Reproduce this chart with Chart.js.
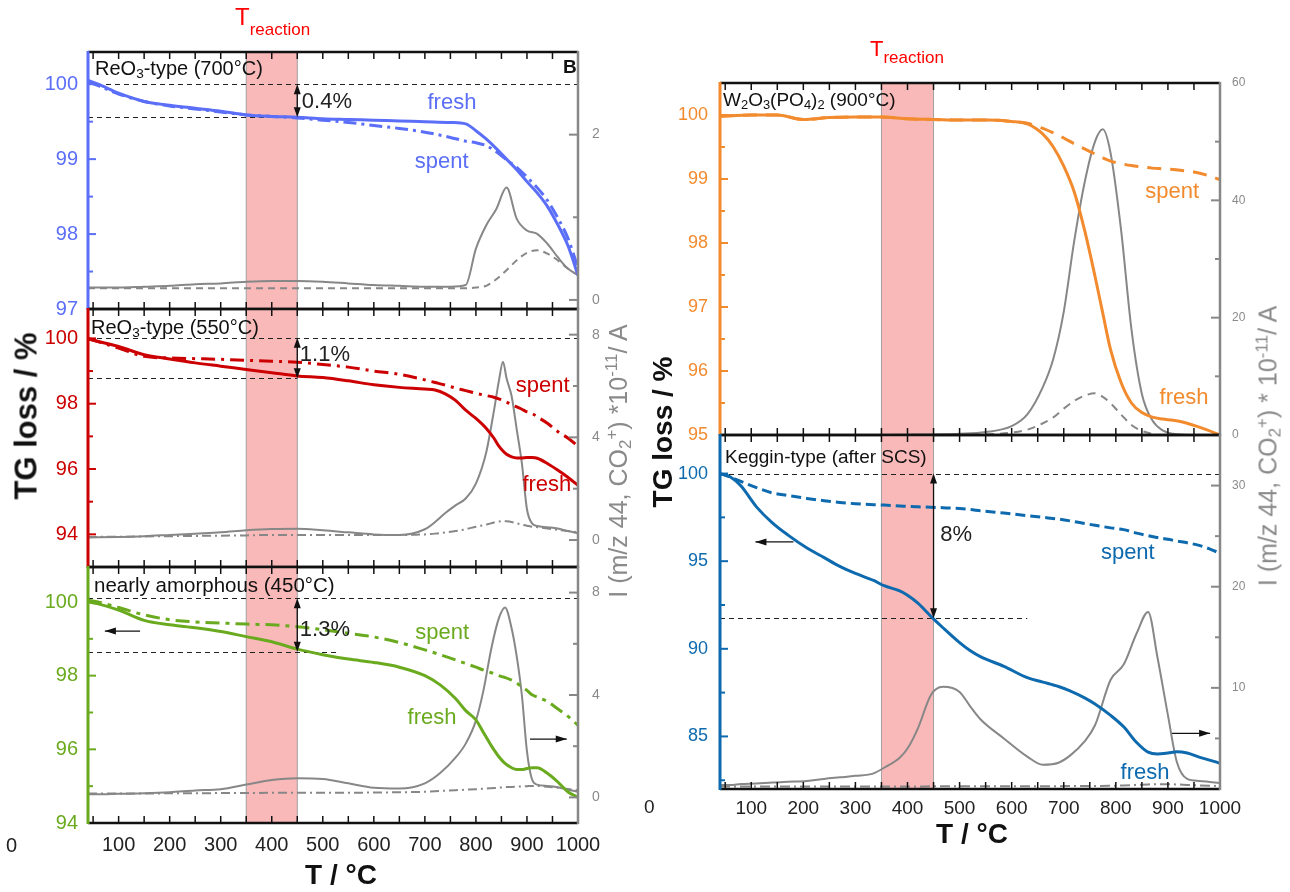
<!DOCTYPE html>
<html lang="en">
<head>
<meta charset="UTF-8" />
<title>TG / MS of fresh and spent catalysts</title>
<script src="https://cdn.jsdelivr.net/npm/chart.js"></script>
<style>
  body { margin: 0; background: #fff; font-family: Arial, "Liberation Sans", sans-serif; }
  #fig { position: relative; width: 1290px; height: 892px; overflow: hidden; }
  #fig canvas { position: absolute; left: 0; top: 0; }
  .txt { position: absolute; white-space: nowrap; line-height: 1; color: #111; }
  .rot { transform: translate(-50%, -50%) rotate(-90deg); }
  .lab { font-size: 20px; }
  .lab sub, .ttl sub { font-size: 0.68em; vertical-align: -0.25em; line-height: 0; }
  .ttl sup { font-size: 0.68em; vertical-align: 0.55em; line-height: 0; }
  .red { color: #ff0000; }
</style>
</head>
<body>
<div id="fig">
  <div id="charts"></div>

  <!-- T reaction markers -->
  <div class="txt red" style="left:235px;top:5px"><span style="font-size:24px">T</span><span style="font-size:17px;position:relative;top:10px">reaction</span></div>
  <div class="txt red" style="left:870px;top:38px"><span style="font-size:22px">T</span><span style="font-size:17px;position:relative;top:7px">reaction</span></div>

  <!-- panel labels -->
  <div class="txt lab" style="left:95px;top:58px">ReO<sub>3</sub>-type (700°C)</div>
  <div class="txt lab" style="left:563px;top:57px;font-weight:bold;font-size:19px">B</div>
  <div class="txt lab" style="left:91px;top:317px">ReO<sub>3</sub>-type (550°C)</div>
  <div class="txt lab" style="left:94px;top:575px;font-size:20.5px">nearly amorphous (450°C)</div>
  <div class="txt lab" style="left:723px;top:90px;font-size:19px">W<sub>2</sub>O<sub>3</sub>(PO<sub>4</sub>)<sub>2</sub> (900°C)</div>
  <div class="txt lab" style="left:725px;top:447px;font-size:19px">Keggin-type (after SCS)</div>

  <!-- axis titles -->
  <div class="txt rot ttl" style="left:26px;top:416px;font-size:31px;font-weight:bold">TG loss / %</div>
  <div class="txt rot ttl" style="left:618px;top:461px;font-size:25px;color:#8a8a8a">I (m/z 44, CO<sub>2</sub><sup>+</sup>) *10<sup>-11</sup>/ A</div>
  <div class="txt rot ttl" style="left:663px;top:432px;font-size:28px;font-weight:bold">TG loss / %</div>
  <div class="txt rot ttl" style="left:1268px;top:446px;font-size:25px;color:#8a8a8a">I (m/z 44, CO<sub>2</sub><sup>+</sup>) * 10<sup>-11</sup>/ A</div>
  <div class="txt ttl" style="left:341px;top:875px;transform:translate(-50%,-50%);font-size:28px;font-weight:bold">T / °C</div>
  <div class="txt ttl" style="left:972px;top:834px;transform:translate(-50%,-50%);font-size:28px;font-weight:bold">T / °C</div>

  <!-- clipped labels at the figure edges -->
  <div class="txt" style="left:6px;top:835px;font-size:20px;color:#222">0</div>
  <div class="txt" style="left:644px;top:797px;font-size:19px;color:#222">0</div>
</div>

<script>
  // ---- shared x axis ----
  const xMin = 40, xMax = 1000;
  const xMajor = [100, 200, 300, 400, 500, 600, 700, 800, 900, 1000];
  const xMinor = [50, 150, 250, 350, 450, 550, 650, 750, 850, 950];
  const reactionBand = [350, 450];

  // ---- panel 1: ReO3-type (700 °C) ----
  const t1 = [40, 60, 100, 150, 200, 250, 300, 350, 400, 450, 500, 550, 600, 650, 700, 750, 780, 800, 820, 840, 860, 880, 900, 920, 940, 960, 980, 1000];
  const tg1Fresh = [100.05, 100.0, 99.88, 99.77, 99.72, 99.68, 99.64, 99.59, 99.57, 99.56, 99.54, 99.53, 99.52, 99.51, 99.5, 99.49, 99.47, 99.38, 99.27, 99.14, 99.0, 98.86, 98.7, 98.55, 98.37, 98.13, 97.85, 97.45];
  const tg1Spent = [100.03, 99.98, 99.87, 99.77, 99.71, 99.67, 99.63, 99.59, 99.57, 99.55, 99.52, 99.49, 99.45, 99.41, 99.36, 99.29, 99.24, 99.22, 99.18, 99.1, 98.99, 98.89, 98.76, 98.62, 98.45, 98.22, 97.95, 97.55];
  const ms1Fresh = [0.15, 0.15, 0.15, 0.16, 0.17, 0.19, 0.2, 0.22, 0.23, 0.23, 0.22, 0.2, 0.18, 0.17, 0.16, 0.16, 0.18, 0.62, 0.9, 1.1, 1.36, 0.98, 0.84, 0.8, 0.68, 0.52, 0.38, 0.3];
  const ms1Spent = [0.14, 0.14, 0.14, 0.14, 0.14, 0.14, 0.14, 0.14, 0.14, 0.14, 0.14, 0.14, 0.14, 0.14, 0.14, 0.14, 0.14, 0.15, 0.17, 0.25, 0.36, 0.48, 0.57, 0.6, 0.56, 0.48, 0.38, 0.3];
  const p1Left = [97, 98, 99, 100], p1LeftMinor = [97.5, 98.5, 99.5];
  const p1Right = [0, 2], p1RightMinor = [1, 3];

  // ---- panel 2: ReO3-type (550 °C) ----
  const t2 = [40, 100, 150, 200, 250, 300, 350, 400, 450, 500, 550, 600, 650, 700, 720, 740, 760, 780, 800, 820, 835, 845, 853, 860, 870, 880, 890, 900, 910, 920, 940, 960, 980, 1000];
  const tg2Fresh = [99.98, 99.75, 99.5, 99.37, 99.25, 99.15, 99.05, 98.95, 98.85, 98.8, 98.7, 98.58, 98.5, 98.45, 98.42, 98.3, 98.1, 97.8, 97.55, 97.25, 96.95, 96.7, 96.55, 96.45, 96.37, 96.34, 96.34, 96.35, 96.35, 96.33, 96.17, 95.97, 95.75, 95.5];
  const tg2Spent = [100.0, 99.7, 99.45, 99.4, 99.38, 99.36, 99.33, 99.3, 99.27, 99.2, 99.12, 99.0, 98.9, 98.73, 98.65, 98.57, 98.48, 98.4, 98.32, 98.25, 98.2, 98.15, 98.1, 98.05, 97.97, 97.9, 97.83, 97.75, 97.7, 97.6, 97.4, 97.15, 96.95, 96.7];
  const ms2Fresh = [0.1, 0.12, 0.15, 0.2, 0.25, 0.3, 0.38, 0.43, 0.44, 0.38, 0.3, 0.22, 0.2, 0.42, 0.7, 1.05, 1.35, 1.62, 2.2, 3.4, 5.0, 6.2, 6.95, 6.3, 5.6, 4.3, 3.0, 1.2, 0.65, 0.55, 0.5, 0.45, 0.35, 0.27];
  const ms2Spent = [0.12, 0.13, 0.14, 0.15, 0.16, 0.17, 0.18, 0.2, 0.2, 0.2, 0.2, 0.2, 0.2, 0.22, 0.25, 0.3, 0.35, 0.42, 0.52, 0.6, 0.68, 0.72, 0.74, 0.73, 0.7, 0.65, 0.6, 0.56, 0.52, 0.5, 0.45, 0.4, 0.35, 0.3];
  const p2Left = [94, 96, 98, 100], p2LeftMinor = [95, 97, 99];
  const p2Right = [0, 4, 8], p2RightMinor = [2, 6];

  // ---- panel 3: nearly amorphous (450 °C) ----
  const t3 = [40, 60, 100, 150, 200, 250, 300, 350, 400, 450, 500, 550, 600, 650, 700, 730, 760, 780, 800, 815, 830, 845, 857, 870, 880, 890, 900, 910, 920, 940, 960, 980, 1000];
  const tg3Fresh = [100.0, 99.95, 99.78, 99.5, 99.38, 99.3, 99.2, 99.06, 98.92, 98.72, 98.57, 98.45, 98.36, 98.23, 98.0, 97.75, 97.38, 97.05, 96.8, 96.45, 96.1, 95.8, 95.62, 95.5, 95.45, 95.45, 95.48, 95.5, 95.5, 95.35, 95.12, 94.85, 94.7];
  const tg3Spent = [100.05, 100.0, 99.85, 99.65, 99.52, 99.46, 99.43, 99.4, 99.38, 99.33, 99.25, 99.15, 99.05, 98.9, 98.7, 98.57, 98.43, 98.33, 98.23, 98.15, 98.08, 98.0, 97.95, 97.88, 97.8, 97.7, 97.6, 97.48, 97.42, 97.3, 97.1, 96.9, 96.65];
  const ms3Fresh = [0.12, 0.12, 0.14, 0.16, 0.2, 0.27, 0.32, 0.5, 0.68, 0.75, 0.72, 0.55, 0.38, 0.35, 0.55, 0.95, 1.55, 2.1, 3.0, 4.2, 5.8, 7.0, 7.42, 6.6, 5.5, 4.0, 1.8, 0.7, 0.5, 0.45, 0.4, 0.3, 0.22];
  const ms3Spent = [0.15, 0.15, 0.15, 0.15, 0.16, 0.16, 0.17, 0.17, 0.18, 0.18, 0.18, 0.18, 0.19, 0.2, 0.22, 0.25, 0.28, 0.3, 0.32, 0.34, 0.36, 0.38, 0.4, 0.41, 0.42, 0.43, 0.44, 0.45, 0.45, 0.42, 0.38, 0.33, 0.28];
  const p3Left = [94, 96, 98, 100], p3LeftMinor = [95, 97, 99];
  const p3Right = [0, 4, 8], p3RightMinor = [2, 6];

  // ---- panel 4: W2O3(PO4)2 (900 °C) ----
  const t4 = [40, 100, 150, 200, 250, 300, 350, 400, 450, 500, 550, 600, 630, 660, 680, 700, 720, 740, 760, 775, 790, 810, 830, 850, 870, 890, 910, 930, 950, 975, 1000];
  const tg4Fresh = [99.98, 100.0, 100.0, 99.93, 99.96, 99.97, 99.97, 99.94, 99.93, 99.92, 99.92, 99.9, 99.86, 99.7, 99.5, 99.2, 98.8, 98.2, 97.48, 96.9, 96.33, 95.82, 95.5, 95.35, 95.28, 95.25, 95.23, 95.2, 95.15, 95.08, 95.0];
  const tg4Spent = [99.98, 100.0, 100.0, 99.93, 99.96, 99.97, 99.97, 99.94, 99.93, 99.92, 99.92, 99.9, 99.87, 99.79, 99.72, 99.64, 99.55, 99.47, 99.39, 99.33, 99.28, 99.24, 99.21, 99.19, 99.17, 99.16, 99.15, 99.13, 99.11, 99.06, 98.99];
  const ms4Fresh = [0, 0, 0, 0, 0, 0, 0, 0.05, 0.1, 0.2, 0.5, 1.5, 3.5, 8.2, 13, 21, 33, 43, 50, 52.1, 48, 35, 18, 7, 2.5, 0.8, 0.2, 0.05, 0, 0, 0];
  const ms4Spent = [0, 0, 0, 0, 0, 0, 0, 0, 0, 0, 0.1, 0.4, 0.9, 2, 3, 4.5, 5.8, 6.7, 7.1, 6.5, 5.4, 3.5, 1.7, 0.7, 0.2, 0, 0, 0, 0, 0, 0];
  const p4Left = [95, 96, 97, 98, 99, 100], p4LeftMinor = [95.5, 96.5, 97.5, 98.5, 99.5];
  const p4Right = [0, 20, 40, 60], p4RightMinor = [10, 30, 50];

  // ---- panel 5: Keggin-type (after SCS) ----
  const t5 = [40, 60, 80, 110, 140, 170, 207, 240, 270, 300, 335, 355, 385, 400, 420, 445, 468, 500, 520, 540, 585, 630, 660, 690, 712, 740, 760, 790, 815, 840, 862, 880, 900, 917, 937, 960, 980, 1000];
  const tg5Fresh = [100, 99.8, 99.3, 98.1, 97.2, 96.5, 95.75, 95.2, 94.7, 94.3, 93.9, 93.6, 93.3, 93.05, 92.6, 91.85, 91.2, 90.35, 89.9, 89.55, 89.0, 88.35, 88.1, 87.85, 87.6, 87.2, 86.85, 86.2, 85.55, 84.65, 84.1, 84.0, 84.05, 84.12, 84.05, 83.82, 83.65, 83.47];
  const tg5Spent = [100, 99.8, 99.55, 99.2, 98.9, 98.75, 98.58, 98.45, 98.35, 98.28, 98.22, 98.2, 98.15, 98.13, 98.1, 98.08, 98.05, 98.0, 97.95, 97.88, 97.75, 97.6, 97.5, 97.4, 97.3, 97.15, 97.05, 96.9, 96.8, 96.6, 96.45, 96.35, 96.25, 96.15, 96.05, 95.9, 95.7, 95.45];
  const ms5Fresh = [0.4, 0.4, 0.5, 0.55, 0.65, 0.72, 0.8, 1.0, 1.15, 1.3, 1.55, 2.1, 3.1, 4.0, 6.0, 9.3, 10.1, 9.6, 8.2, 6.9, 5.0, 3.2, 2.4, 2.6, 3.3, 4.7, 6.3, 10.8, 12.3, 15.4, 17.5, 13.0, 7.3, 2.7, 1.0, 0.8, 0.7, 0.6];
  const ms5Spent = [0.25, 0.25, 0.25, 0.25, 0.25, 0.25, 0.25, 0.25, 0.25, 0.25, 0.25, 0.25, 0.25, 0.25, 0.25, 0.26, 0.26, 0.27, 0.27, 0.27, 0.28, 0.28, 0.28, 0.28, 0.29, 0.3, 0.3, 0.32, 0.35, 0.4, 0.45, 0.48, 0.48, 0.45, 0.4, 0.35, 0.32, 0.3];
  const p5Left = [85, 90, 95, 100], p5LeftMinor = [82.5, 87.5, 92.5, 97.5];
  const p5Right = [10, 20, 30], p5RightMinor = [5, 15, 25, 35];

  const W = 1290, H = 892;
  const FONT = 'Arial, "Liberation Sans", sans-serif';
  const GRAY = '#878787';

  const pts = (t, v) => t.map((x, i) => ({ x, y: v[i] }));

  function arrowHead(ctx, x0, y0, x1, y1, len, half) {
    const a = Math.atan2(y1 - y0, x1 - x0), c = Math.cos(a), s = Math.sin(a);
    ctx.beginPath();
    ctx.moveTo(x1, y1);
    ctx.lineTo(x1 - len * c + half * s, y1 - len * s - half * c);
    ctx.lineTo(x1 - len * c - half * s, y1 - len * s + half * c);
    ctx.closePath();
    ctx.fill();
  }

  function seg(ctx, x0, y0, x1, y1) {
    ctx.beginPath(); ctx.moveTo(x0, y0); ctx.lineTo(x1, y1); ctx.stroke();
  }

  // band, reference lines, frame, ticks, arrows and labels for one panel
  const panelPlugin = {
    id: 'panel',
    beforeDatasetsDraw(chart, args, o) {
      const { ctx, chartArea: a, scales: { x, y } } = chart;
      ctx.save();
      const b0 = x.getPixelForValue(reactionBand[0]), b1 = x.getPixelForValue(reactionBand[1]);
      ctx.fillStyle = '#f9b9b9';
      ctx.fillRect(b0, a.top, b1 - b0, a.bottom - a.top);
      ctx.strokeStyle = '#a0a0a0'; ctx.lineWidth = 1;
      seg(ctx, b0, a.top, b0, a.bottom);
      seg(ctx, b1, a.top, b1, a.bottom);
      ctx.strokeStyle = '#222'; ctx.lineWidth = 1; ctx.setLineDash([5, 4]);
      (o.refs || []).forEach(r => {
        const py = Math.round(y.getPixelForValue(r.v)) + 0.5;
        seg(ctx, x.getPixelForValue(r.from), py, x.getPixelForValue(r.to), py);
      });
      ctx.restore();
    },
    afterDatasetsDraw(chart, args, o) {
      const { ctx, chartArea: a, scales } = chart;
      const x = scales.x, y = scales.y, y2 = scales.y2;
      const inside = (s, v) => v > s.min && v < s.max;
      ctx.save();
      ctx.setLineDash([]);

      // x ticks, top and bottom, inward
      ctx.strokeStyle = '#111'; ctx.lineWidth = 1.5;
      xMajor.concat(xMinor).filter(v => inside(x, v)).forEach(v => {
        const px = x.getPixelForValue(v);
        seg(ctx, px, a.bottom, px, a.bottom - 7);
        seg(ctx, px, a.top, px, a.top + 7);
      });
      // left ticks
      ctx.strokeStyle = o.color; ctx.lineWidth = 2;
      o.leftMajor.filter(v => inside(y, v)).forEach(v => { const py = y.getPixelForValue(v); seg(ctx, a.left, py, a.left + 8, py); });
      o.leftMinor.filter(v => inside(y, v)).forEach(v => { const py = y.getPixelForValue(v); seg(ctx, a.left, py, a.left + 5, py); });
      // right ticks
      ctx.strokeStyle = GRAY;
      o.rightMajor.filter(v => inside(y2, v)).forEach(v => { const py = y2.getPixelForValue(v); seg(ctx, a.right, py, a.right - 9, py); });
      o.rightMinor.filter(v => inside(y2, v)).forEach(v => { const py = y2.getPixelForValue(v); seg(ctx, a.right, py, a.right - 5, py); });

      // frame
      ctx.strokeStyle = '#111'; ctx.lineWidth = 2.5;
      seg(ctx, a.left, a.top, a.right, a.top);
      seg(ctx, a.left, a.bottom, a.right, a.bottom);
      ctx.strokeStyle = GRAY; ctx.lineWidth = 2.5;
      seg(ctx, a.right, a.top - 1, a.right, a.bottom + 1);
      ctx.strokeStyle = o.color; ctx.lineWidth = 3;
      seg(ctx, a.left, a.top - 1, a.left, a.bottom + 1);

      // double arrow for the mass loss
      ctx.strokeStyle = '#111'; ctx.fillStyle = '#111'; ctx.lineWidth = 1.3;
      if (o.span) {
        const px = x.getPixelForValue(o.span.x);
        const ya = y.getPixelForValue(o.span.from), yb = y.getPixelForValue(o.span.to);
        seg(ctx, px, ya + 6, px, yb - 6);
        arrowHead(ctx, px, yb, px, ya, 10, 3.5);
        arrowHead(ctx, px, ya, px, yb, 10, 3.5);
      }
      // axis pointer arrows
      ctx.lineWidth = 1.2;
      (o.pointers || []).forEach(p => {
        const s = scales[p.axis], py = s.getPixelForValue(p.v);
        const xa = x.getPixelForValue(p.from), xb = x.getPixelForValue(p.to);
        seg(ctx, xa, py, xb, py);
        arrowHead(ctx, xa, py, xb, py, 11, 3.5);
      });

      // labels
      ctx.textBaseline = 'middle';
      (o.labels || []).forEach(l => {
        ctx.font = (l.size || 22) + 'px ' + FONT;
        ctx.fillStyle = l.color;
        ctx.textAlign = l.align || 'center';
        ctx.fillText(l.text, x.getPixelForValue(l.x), scales[l.axis || 'y'].getPixelForValue(l.v));
      });
      ctx.restore();
    }
  };

  function tgSet(t, v, color, dash) {
    return { data: pts(t, v), yAxisID: 'y', borderColor: color, borderWidth: 3, borderDash: dash || [],
      pointRadius: 0, fill: false, cubicInterpolationMode: 'monotone' };
  }
  function msSet(t, v, dash) {
    return { data: pts(t, v), yAxisID: 'y2', borderColor: GRAY, borderWidth: 2, borderDash: dash || [],
      pointRadius: 0, fill: false, cubicInterpolationMode: 'monotone' };
  }

  function yScale(pos, min, max, ticks, color, size, pad) {
    return {
      type: 'linear', position: pos, min, max,
      grid: { display: false, drawTicks: false }, border: { display: false },
      afterBuildTicks: s => { s.ticks = ticks.map(v => ({ value: v })); },
      ticks: { color, font: { family: FONT, size }, padding: pad, autoSkip: false, callback: v => String(v) },
      afterFit: s => { s.width = 60; s.paddingTop = 0; s.paddingBottom = 0; }
    };
  }

  function makePanel(box, c) {
    const cv = document.createElement('canvas');
    cv.width = W; cv.height = H;
    document.getElementById('charts').appendChild(cv);
    const [L, T, R, B] = box;
    return new Chart(cv, {
      type: 'line',
      data: { datasets: c.datasets },
      options: {
        responsive: false, animation: false, devicePixelRatio: 1,
        layout: { padding: { left: L - 60, right: W - R - 60, top: T, bottom: H - B - 40 } },
        plugins: { legend: { display: false }, tooltip: { enabled: false }, panel: c.panel },
        scales: {
          x: {
            type: 'linear', position: 'bottom', min: xMin, max: xMax,
            grid: { display: false, drawTicks: false }, border: { display: false },
            afterBuildTicks: s => { s.ticks = xMajor.map(v => ({ value: v })); },
            ticks: { display: !!c.xLabels, color: '#222', font: { family: FONT, size: c.xSize || 20 },
              padding: c.xPad || 10, maxRotation: 0, autoSkip: false, callback: v => String(v) },
            afterFit: s => { s.height = 40; s.paddingLeft = 0; s.paddingRight = 0; }
          },
          y: yScale('left', c.yMin, c.yMax, c.panel.leftMajor, c.panel.color, c.ySize || 20, c.yPad || 10),
          y2: yScale('right', c.y2Min, c.y2Max, c.y2Labels, '#8a8a8a', c.y2Size || 14, c.y2Pad || 14)
        }
      },
      plugins: [panelPlugin]
    });
  }

  const C1 = '#5b6ef7', C2 = '#cc0000', C3 = '#6aaa1e', C4 = '#f28a2e', C5 = '#0e6aae';
  const dashDot = [13, 5, 3, 5];

  makePanel([88, 52, 578, 309], {
    yMin: 97, yMax: 100.43, y2Min: -0.11, y2Max: 3.0, y2Labels: p1Right,
    datasets: [tgSet(t1, tg1Fresh, C1), tgSet(t1, tg1Spent, C1, dashDot),
               msSet(t1, ms1Fresh), msSet(t1, ms1Spent, [7, 5])],
    panel: {
      color: C1, leftMajor: p1Left, leftMinor: p1LeftMinor, rightMajor: p1Right, rightMinor: p1RightMinor,
      refs: [{ v: 100, from: 40, to: 1000 }, { v: 99.56, from: 40, to: 450 }],
      span: { x: 450, from: 100, to: 99.56 },
      labels: [{ text: '0.4%', x: 459, v: 99.76, color: '#222', align: 'left' },
               { text: 'fresh', x: 753, v: 99.75, color: C1 },
               { text: 'spent', x: 733, v: 98.96, color: C1 }]
    }
  });

  makePanel([88, 309, 578, 567], {
    yMin: 93, yMax: 100.9, y2Min: -1.05, y2Max: 9, y2Labels: p2Right,
    datasets: [tgSet(t2, tg2Fresh, C2), tgSet(t2, tg2Spent, C2, [14, 6, 3, 6]),
               msSet(t2, ms2Fresh), msSet(t2, ms2Spent, [9, 4, 2, 4])],
    panel: {
      color: C2, leftMajor: p2Left, leftMinor: p2LeftMinor, rightMajor: p2Right, rightMinor: p2RightMinor,
      refs: [{ v: 100.02, from: 40, to: 1000 }, { v: 98.78, from: 40, to: 450 }],
      span: { x: 450, from: 100.02, to: 98.78 },
      labels: [{ text: '1.1%', x: 455, v: 99.49, color: '#222', align: 'left' },
               { text: 'spent', x: 931, v: 98.54, color: C2 },
               { text: 'fresh', x: 939, v: 95.51, color: C2 }]
    }
  });

  makePanel([88, 567, 578, 823], {
    xLabels: true,
    yMin: 94, yMax: 100.95, y2Min: -1, y2Max: 9, y2Labels: p3Right,
    datasets: [tgSet(t3, tg3Fresh, C3), tgSet(t3, tg3Spent, C3, [14, 6, 4, 6]),
               msSet(t3, ms3Fresh), msSet(t3, ms3Spent, [9, 4, 2, 4])],
    panel: {
      color: C3, leftMajor: p3Left, leftMinor: p3LeftMinor, rightMajor: p3Right, rightMinor: p3RightMinor,
      refs: [{ v: 100.1, from: 40, to: 1000 }, { v: 98.65, from: 40, to: 530 }],
      span: { x: 450, from: 100.1, to: 98.65 },
      pointers: [{ axis: 'y', v: 99.21, from: 142, to: 73 }, { axis: 'y2', v: 2.28, from: 906, to: 978 }],
      labels: [{ text: '1.3%', x: 455, v: 99.24, color: '#222', align: 'left' },
               { text: 'spent', x: 734, v: 99.16, color: C3 },
               { text: 'fresh', x: 714, v: 96.85, color: C3 }]
    }
  });

  makePanel([720, 83, 1220, 435], {
    yMin: 95, yMax: 100.5, ySize: 18, yPad: 12, y2Min: 0, y2Max: 60, y2Labels: p4Right, y2Size: 12, y2Pad: 12,
    datasets: [tgSet(t4, tg4Fresh, C4), tgSet(t4, tg4Spent, C4, [14, 9]),
               msSet(t4, ms4Fresh), msSet(t4, ms4Spent, [8, 6])],
    panel: {
      color: C4, leftMajor: p4Left, leftMinor: p4LeftMinor, rightMajor: p4Right, rightMinor: p4RightMinor,
      labels: [{ text: 'spent', x: 908, v: 98.8, color: C4 },
               { text: 'fresh', x: 931, v: 95.58, color: C4 }]
    }
  });

  makePanel([720, 435, 1220, 789], {
    xLabels: true, xSize: 19, xPad: 8,
    yMin: 82, yMax: 102.2, ySize: 18, yPad: 12, y2Min: 0, y2Max: 35, y2Labels: p5Right, y2Size: 12, y2Pad: 12,
    datasets: [tgSet(t5, tg5Fresh, C5), tgSet(t5, tg5Spent, C5, [10, 5]),
               msSet(t5, ms5Fresh), msSet(t5, ms5Spent, [10, 4, 2, 4])],
    panel: {
      color: C5, leftMajor: p5Left, leftMinor: p5LeftMinor, rightMajor: p5Right, rightMinor: p5RightMinor,
      refs: [{ v: 100, from: 40, to: 1000 }, { v: 91.75, from: 40, to: 630 }],
      span: { x: 450, from: 100, to: 91.75 },
      pointers: [{ axis: 'y', v: 96.1, from: 181, to: 108 }, { axis: 'y2', v: 5.5, from: 908, to: 981 }],
      labels: [{ text: '8%', x: 463, v: 96.5, color: '#222', align: 'left' },
               { text: 'spent', x: 823, v: 95.47, color: C5 },
               { text: 'fresh', x: 856, v: 82.9, color: C5 }]
    }
  });
</script>
</body>
</html>
